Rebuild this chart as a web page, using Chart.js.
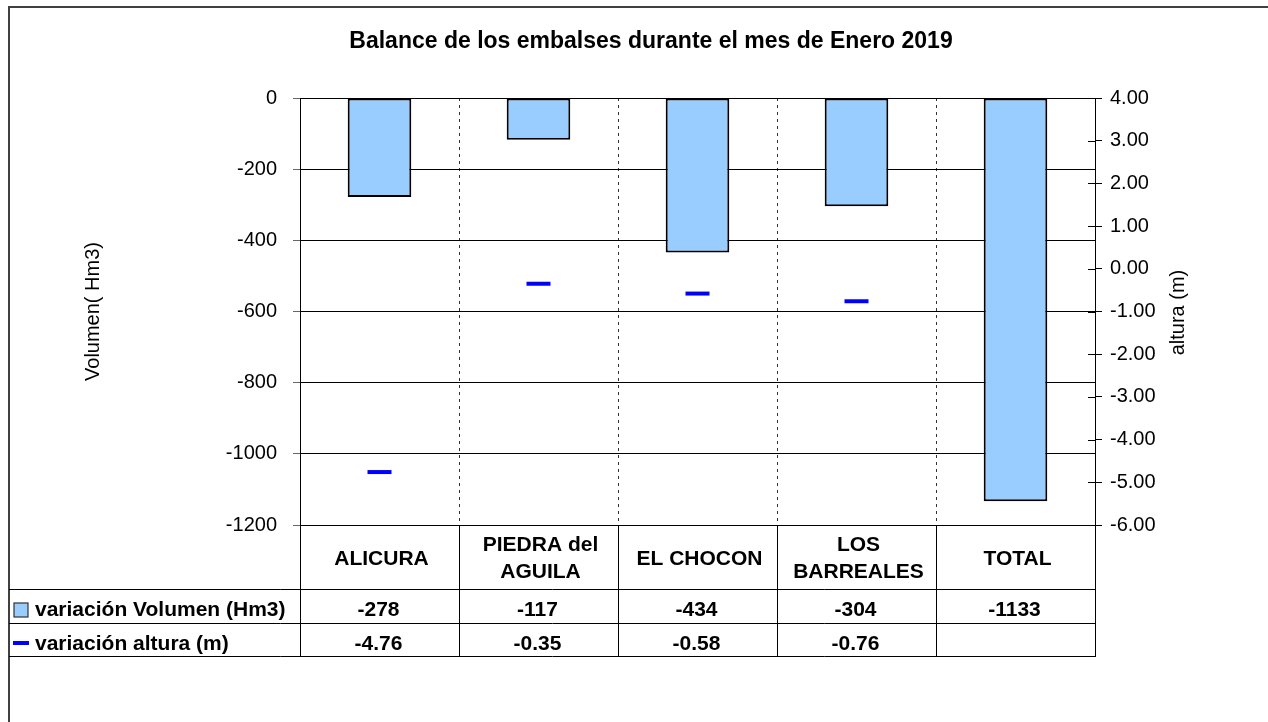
<!DOCTYPE html>
<html><head><meta charset="utf-8">
<script src="https://cdn.jsdelivr.net/npm/chart.js@4"></script>
<style>html,body{margin:0;padding:0;background:#fff}canvas{display:block}</style>
</head><body>
<canvas id="c" width="1268" height="722"></canvas>
<script>
const chartTitle = 'Balance de los embalses durante el mes de Enero 2019';
const categories = ['ALICURA', ['PIEDRA del', 'AGUILA'], 'EL CHOCON', ['LOS', 'BARREALES'], 'TOTAL'];
const volumen = [-278, -117, -434, -304, -1133];
const altura = [-4.76, -0.35, -0.58, -0.76, null];
const seriesNames = ['variación Volumen (Hm3)', 'variación altura (m)'];
const leftAxisTitle = 'Volumen( Hm3)';
const rightAxisTitle = 'altura (m)';
const leftMin = -1200, leftMax = 0, leftStep = 200;
const rightMin = -6, rightMax = 4, rightStep = 1;

const FONT = '"Liberation Sans", Arial, Helvetica, sans-serif';
const BAR_COLOR = '#99CCFF';
const LINE_COLOR = '#0000FF';

const excelPlugin = {
  id: 'excelDecor',
  afterDraw(chart) {
    const ctx = chart.ctx;
    const a = chart.chartArea;
    const n = categories.length;
    const cw = (a.right - a.left) / n;
    const top = a.bottom;
    const r1 = top + 64, r2 = r1 + 34, r3 = r2 + 33;
    ctx.save();

    // outer frame
    ctx.strokeStyle = '#404040'; ctx.lineWidth = 2;
    ctx.beginPath(); ctx.moveTo(9, 722); ctx.lineTo(9, 7); ctx.lineTo(1268, 7); ctx.stroke();

    // title
    ctx.fillStyle = '#000';
    ctx.font = 'bold 23px ' + FONT;
    ctx.textAlign = 'center'; ctx.textBaseline = 'alphabetic';
    ctx.fillText(chartTitle, 651, 48);

    // axis titles
    ctx.font = '20px ' + FONT;
    ctx.textBaseline = 'middle';
    ctx.save(); ctx.translate(93, (a.top + a.bottom) / 2); ctx.rotate(-Math.PI / 2);
    ctx.fillText(leftAxisTitle, 0, 0); ctx.restore();
    ctx.save(); ctx.translate(1178, (a.top + a.bottom) / 2 + 1); ctx.rotate(-Math.PI / 2);
    ctx.fillText(rightAxisTitle, 0, 0); ctx.restore();

    // inner tick marks on right axis
    const y1 = chart.scales.y1;
    ctx.strokeStyle = '#000'; ctx.lineWidth = 1;
    ctx.beginPath();
    y1.ticks.forEach(t => { const yy = Math.round(y1.getPixelForValue(t.value)) + 0.5; ctx.moveTo(a.right - 7, yy); ctx.lineTo(a.right, yy); });
    ctx.stroke();

    // data table lines
    ctx.strokeStyle = '#000'; ctx.lineWidth = 1;
    ctx.beginPath();
    for (let i = 0; i <= n; i++) {
      const xx = Math.round(a.left + i * cw) + 0.5;
      ctx.moveTo(xx, top); ctx.lineTo(xx, r3);
    }
    [r1, r2, r3].forEach(y => { ctx.moveTo(9, y + 0.5); ctx.lineTo(Math.round(a.right) + 1, y + 0.5); });
    ctx.stroke();

    // category labels
    ctx.font = 'bold 21px ' + FONT;
    ctx.textAlign = 'center'; ctx.textBaseline = 'alphabetic';
    categories.forEach((c, i) => {
      const cx = a.left + (i + 0.5) * cw + 2;
      if (Array.isArray(c)) {
        ctx.fillText(c[0], cx, top + 26);
        ctx.fillText(c[1], cx, top + 53);
      } else {
        ctx.fillText(c, cx, top + 40);
      }
    });
    // values
    volumen.forEach((v, i) => {
      const cx = a.left + (i + 0.5) * cw - 1;
      ctx.fillText(String(v), cx, r1 + 27);
    });
    altura.forEach((v, i) => {
      const cx = a.left + (i + 0.5) * cw - 1;
      if (v !== null) ctx.fillText(v.toFixed(2), cx, r2 + 27);
    });
    // series labels with keys
    ctx.textAlign = 'left';
    ctx.fillText(seriesNames[0], 35, r1 + 27);
    ctx.fillText(seriesNames[1], 35, r2 + 27);
    ctx.fillStyle = BAR_COLOR; ctx.fillRect(14, r1 + 14, 14, 14);
    ctx.strokeStyle = '#333'; ctx.lineWidth = 1.2; ctx.strokeRect(14, r1 + 14, 14, 14);
    ctx.fillStyle = LINE_COLOR; ctx.fillRect(13, r2 + 18, 16, 4);
    ctx.restore();
  }
};

new Chart(document.getElementById('c'), {
  data: {
    labels: categories,
    datasets: [
      {
        type: 'line', label: seriesNames[1], data: altura, yAxisID: 'y1',
        showLine: false, pointStyle: 'line', pointRadius: 12, pointHoverRadius: 12,
        pointBorderWidth: 4, pointBorderColor: LINE_COLOR, pointBackgroundColor: LINE_COLOR,
        borderColor: LINE_COLOR, order: 1
      },
      {
        type: 'bar', label: seriesNames[0], data: volumen, yAxisID: 'y',
        backgroundColor: BAR_COLOR, borderColor: '#000', borderWidth: 2, borderSkipped: false,
        barPercentage: 0.4, categoryPercentage: 1.0, order: 2
      }
    ]
  },
  options: {
    responsive: false, animation: false, devicePixelRatio: 1,
    layout: { padding: { top: 98, bottom: 197, left: 0, right: 0 } },
    plugins: { legend: { display: false }, title: { display: false }, tooltip: { enabled: false } },
    scales: {
      x: {
        type: 'category', offset: true,
        ticks: { display: false },
        grid: {
          offset: true, drawTicks: false, lineWidth: 1,
          color: c => (c.index === 0 || c.index === categories.length) ? 'rgba(0,0,0,0)' : '#333',
          borderDash: [3, 4]
        },
        border: { display: false, dash: [3, 4] },
        afterFit: s => { s.height = 0; }
      },
      y: {
        position: 'left', min: leftMin, max: leftMax,
        ticks: { stepSize: leftStep, padding: 16, color: '#000', font: { family: FONT, size: 20 },
          callback: v => String(v) },
        grid: { color: '#000', lineWidth: 1, tickLength: 7, tickColor: '#666' },
        border: { display: true, color: '#000', width: 1 },
        afterFit: s => { s.width = 300; }
      },
      y1: {
        position: 'right', min: rightMin, max: rightMax,
        ticks: { stepSize: rightStep, padding: 8, color: '#000', font: { family: FONT, size: 20 },
          callback: v => Number(v).toFixed(2) },
        grid: { drawOnChartArea: false, tickLength: 7, tickColor: '#000' },
        border: { display: true, color: '#000', width: 1 },
        afterFit: s => { s.width = 173; }
      }
    }
  },
  plugins: [excelPlugin]
});
</script>
</body></html>
